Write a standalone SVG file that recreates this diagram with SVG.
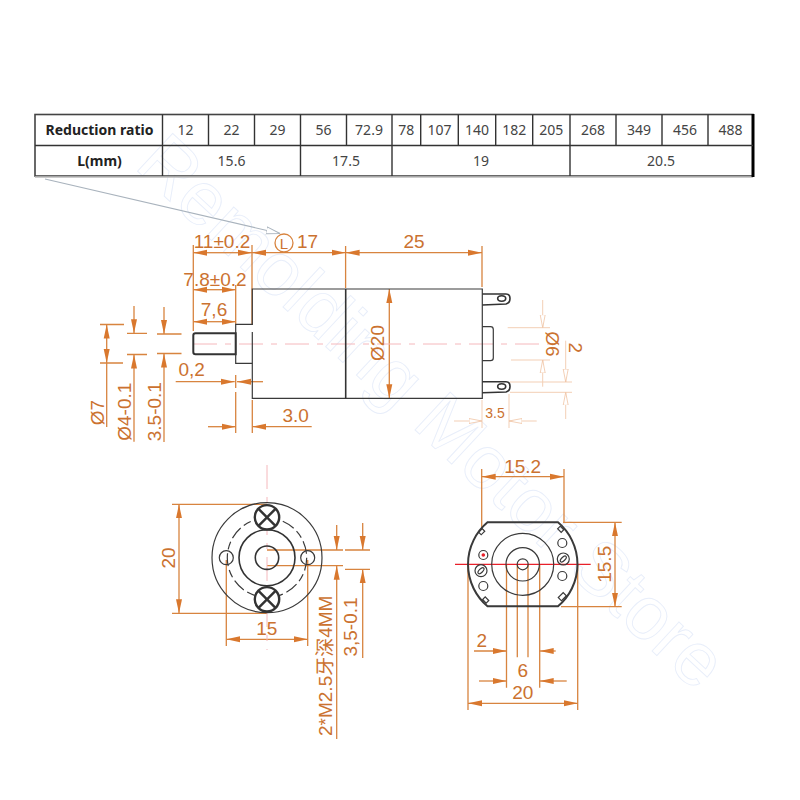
<svg xmlns="http://www.w3.org/2000/svg" width="800" height="800" viewBox="0 0 800 800">
<style>
text{font-family:"Liberation Sans",Arial,"Noto Sans CJK SC",sans-serif}
.wm{font-size:75px;fill:none;stroke:#e8eefa;stroke-width:.9}
.g{stroke:#3a3a3a;stroke-width:1.2;fill:none}
.g2{stroke:#333;stroke-width:1.6;fill:none}
.gb{stroke:#333;stroke-width:2;fill:none}
.d{stroke:#d8843f;stroke-width:1.3;fill:none}
.a{stroke:#d8843f;stroke-width:1.3;fill:none;marker-end:url(#ah)}
.f{stroke:#f3cfb5;stroke-width:1;fill:none}
.fa{stroke:#f3cfb5;stroke-width:1;fill:none;marker-end:url(#fh)}
.t{fill:#cb7230;font-size:19px}
.ts{font-size:14px}
.tl{font-size:15px}
.m{text-anchor:middle}
.cl{stroke:#f5b8bc;stroke-width:1;stroke-dasharray:24 8 6 8;fill:none}
.tb{stroke:#333;stroke-width:1.4;fill:none}
.n{font-family:"Noto Sans",sans-serif;font-size:14px;fill:#444;text-anchor:middle}
.h{font-family:"Noto Sans",sans-serif;font-size:14px;font-weight:700;fill:#222;text-anchor:middle}
</style>
<defs>
<marker id="ah" markerUnits="userSpaceOnUse" markerWidth="15" markerHeight="8" refX="14" refY="4" orient="auto"><path d="M0 1 L14 4 L0 7 Z" fill="#d9782e"/></marker>
<marker id="fh" markerUnits="userSpaceOnUse" markerWidth="14" markerHeight="8" refX="13" refY="4" orient="auto"><path d="M0 1.5 L13 4 L0 6.5 Z" fill="#fff" stroke="#f0c4a4" stroke-width=".8"/></marker>
<marker id="lh" markerUnits="userSpaceOnUse" markerWidth="16" markerHeight="10" refX="14" refY="5" orient="auto"><path d="M0 1.5 L14 5 L0 8.5 Z" fill="#fff" stroke="#a9b3bd" stroke-width="1"/></marker>
</defs>
<rect width="800" height="800" fill="#fff"/>
<text class="wm" transform="translate(133 167) rotate(43)">Remolding Motor Store</text>

<g id="table">
<rect x="35" y="114.5" width="718" height="61.5" fill="none" stroke="#444" stroke-width="1.6"/>
<path d="M35 177H753" stroke="#bbb" stroke-width="1.5"/>
<path d="M753 114V177" stroke="#000" stroke-width="3"/>
<path class="tb" d="M35 145.5H753M162.5 114.5V176M208.5 114.5V145.5M254.5 114.5V145.5M300.5 114.5V176M346.5 114.5V145.5M392 114.5V176M420.7 114.5V145.5M458.3 114.5V145.5M495.7 114.5V145.5M532.7 114.5V145.5M570 114.5V176M616 114.5V145.5M662 114.5V145.5M708 114.5V145.5"/>
<text class="h" x="99.5" y="134.5">Reduction ratio</text>
<text class="h" x="99.5" y="165.5">L(mm)</text>
<text class="n" x="185.5" y="134.5">12</text><text class="n" x="231.5" y="134.5">22</text><text class="n" x="277.5" y="134.5">29</text>
<text class="n" x="323.5" y="134.5">56</text><text class="n" x="369" y="134.5">72.9</text><text class="n" x="406.3" y="134.5">78</text>
<text class="n" x="439.5" y="134.5">107</text><text class="n" x="477" y="134.5">140</text><text class="n" x="514.2" y="134.5">182</text>
<text class="n" x="551.3" y="134.5">205</text><text class="n" x="593" y="134.5">268</text><text class="n" x="639" y="134.5">349</text>
<text class="n" x="685" y="134.5">456</text><text class="n" x="730.5" y="134.5">488</text>
<text class="n" x="231.5" y="165.5">15.6</text><text class="n" x="346" y="165.5">17.5</text><text class="n" x="481" y="165.5">19</text><text class="n" x="661" y="165.5">20.5</text>
</g>

<g id="connectors">
<path d="M45 179L280 233.5" stroke="#a9b3bd" stroke-width="1.1" fill="none" marker-end="url(#lh)"/>
<path class="d" d="M193.3 245V331M252 245V325M345.6 246V288M482 246V287M235.7 285V325"/>
<path class="a" d="M222 252.7H193.3"/><path class="a" d="M222 252.7H252"/>
<path class="a" d="M300 252.7H252"/><path class="a" d="M300 252.7H345.6"/>
<path class="a" d="M414 252.7H345.6"/><path class="a" d="M414 252.7H482"/>
<path class="a" d="M215 289.7H193.3"/><path class="a" d="M215 289.7H235.7"/>
<path class="a" d="M215 321.7H193.3"/><path class="a" d="M215 321.7H235.7"/>
<path class="d" d="M100 324.5H124M100 363H123M127 333.3H147M127 354.5H147M157 334H181.5M157 353.5H181.5"/>
<path class="a" d="M106.7 344V324.5"/><path class="a" d="M106.7 344V363"/><path class="d" d="M106.7 363V427"/>
<path class="a" d="M134 306V333.3"/><path class="a" d="M134 441.7V354.5"/>
<path class="a" d="M164 307V334"/><path class="a" d="M164 442V353.5"/>
<path class="a" d="M175.7 381.7H234.7"/><path class="a" d="M263 381.7H237"/><path class="d" d="M235.7 375V388M235.7 392V433M252.3 400V433"/>
<path class="a" d="M208 426.7H235.7"/><path class="a" d="M311.7 426.7H252.3"/>
<path class="a" d="M389.3 344V289"/><path class="a" d="M389.3 344V398.3"/>
<path class="f" d="M507.7 327.7H550M511 360H550M510 382H572M510 392.3H572M482 400V428M509 394V428"/>
<path class="fa" d="M542.7 300V327.7"/><path class="fa" d="M542.7 386.7V360"/>
<path class="fa" d="M565.7 340.7V382"/><path class="fa" d="M565.7 419V392.3"/>
<path class="fa" d="M454 421H482"/><path class="fa" d="M536.7 421H509"/>
<path class="cl" d="M193 344H553"/>
<path class="d" d="M172 504.3H267M172 613.3H267M226.3 560V646M307.7 560V646M267 550H343M267 565.7H343M345 550H370M345 569.3H370"/>
<path class="a" d="M179 558V504.3"/><path class="a" d="M179 558V613.3"/>
<path class="a" d="M267 639.3H226.3"/><path class="a" d="M267 639.3H307.7"/>
<path class="a" d="M336.7 525V550"/><path class="a" d="M336.7 739V565.7"/>
<path class="a" d="M362.7 523V550"/><path class="a" d="M362.7 658V569.3"/>
<path class="cl" d="M267 465V650"/>
<path class="d" d="M481.7 469V530M564 469V522M563 522.3H621.7M561 606.7H621.7M468 564V710M577.7 564V710M517.3 564V657.3M528 564V657.3M506.5 564V687.7M539.7 564V687.7"/>
<path class="a" d="M522 476.7H481.7"/><path class="a" d="M522 476.7H564"/>
<path class="a" d="M615 564V522.3"/><path class="a" d="M615 564V606.7"/>
<path class="a" d="M522 703.3H468"/><path class="a" d="M522 703.3H577.7"/>
<path class="a" d="M474 651H506.5"/><path class="a" d="M555.7 651H539.7"/>
<path class="a" d="M479 681H506.5"/><path class="a" d="M566.7 681H539.7"/>
<path d="M455 564.3H590.7" stroke="#e8202a" stroke-width="1.2"/>
</g>

<g id="motor-side">
<path class="g" d="M252.3 332V398.3H482.3V289H252.3V325"/>
<path class="g2" d="M345.7 289V398.3"/>
<path class="g" d="M252.3 324.3H235.7V363.3H252.3"/>
<path class="gb" d="M235.7 333.3H195.5Q193.3 333.3 193.3 335.5V352Q193.3 354.3 195.5 354.3H235.7Z"/>
<path class="g2" d="M482.3 294H506Q510 294 510 298.5Q510 303 506 304L482.3 305M482.3 381.7H506Q510 381.7 510 386.5Q510 391 506 392L482.3 392.7"/>
<ellipse class="g2" cx="501.7" cy="298.5" rx="4" ry="2.7"/><ellipse class="g2" cx="501.7" cy="386.5" rx="4" ry="2.7"/>
<path class="g" d="M482.3 326.7H490.5Q493.3 326.7 493.3 329.5V358Q493.3 360.7 490.5 360.7H482.3"/>
</g>

<g id="motor-labels">
<text class="t m" x="222" y="248">11±0.2</text>
<circle cx="284" cy="243" r="9" fill="none" stroke="#d8843f" stroke-width="1.3"/>
<text class="t tl m" x="284" y="248.5">L</text>
<text class="t" x="297" y="248">17</text>
<text class="t m" x="414" y="248">25</text>
<text class="t m" x="215" y="286">7.8±0.2</text>
<text class="t m" x="214" y="316">7,6</text>
<text class="t m" x="191.7" y="375.6">0,2</text>
<text class="t m" x="295.7" y="422">3.0</text>
<text class="t m" transform="translate(104 412.7) rotate(-90)">Ø7</text>
<text class="t m" transform="translate(130.5 411.7) rotate(-90)">Ø4-0.1</text>
<text class="t m" transform="translate(160.5 411.7) rotate(-90)">3.5-0.1</text>
<text class="t m" transform="translate(384.3 343) rotate(-90)">Ø20</text>
<text class="t m" transform="translate(546 344) rotate(90)">Ø6</text>
<text class="t m" transform="translate(568.5 347.7) rotate(90)">2</text>
<text class="t ts m" x="495" y="417.7">3.5</text>
</g>

<g id="front-view">
<circle class="g" cx="267" cy="557.7" r="55"/>
<circle class="g" cx="267" cy="557.7" r="39.7" stroke-dasharray="13 4 8 4"/>
<circle class="g2" cx="267" cy="557.7" r="28"/>
<circle class="g2" cx="267" cy="557.7" r="11.7"/>
<circle class="g" cx="226.3" cy="557.7" r="7"/><circle class="g" cx="307.7" cy="557.7" r="7"/>
<g fill="#fff" stroke="#333" stroke-width="2.4">
<circle cx="267" cy="517.3" r="12.2"/><path d="M258.5 508.8L275.5 525.8M275.5 508.8L258.5 525.8"/>
<circle cx="267" cy="599.3" r="12.2"/><path d="M258.5 590.8L275.5 607.8M275.5 590.8L258.5 607.8"/>
</g>
<text class="t m" transform="translate(175 558) rotate(-90)">20</text>
<text class="t m" x="266.7" y="635">15</text>
<text class="t" transform="translate(331.7 736) rotate(-90)">2*M2.5牙深4MM</text>
<text class="t m" transform="translate(357.3 627) rotate(-90)">3,5-0.1</text>
</g>

<g id="rear-view">
<path d="M487.5 522.3H558A55 55 0 0 1 558 606.3H487.5A55 55 0 0 1 487.5 522.3Z" fill="none" stroke="#3a3a3a" stroke-width="2"/>
<circle class="g" cx="522.7" cy="564.3" r="31"/>
<circle class="g" cx="522.7" cy="564.3" r="16.7"/>
<circle class="g" cx="522.7" cy="564.3" r="5.5"/>
<circle class="g" cx="483.3" cy="555" r="4.5"/><circle cx="483.3" cy="555" r="1.8" fill="#e8202a"/>
<circle class="g" cx="481" cy="570.7" r="6"/><ellipse class="g" cx="481" cy="570.7" rx="3.8" ry="1.8" transform="rotate(-45 481 570.7)"/>
<circle class="g" cx="483.3" cy="586" r="4.5"/>
<circle class="g" cx="562.3" cy="543" r="4.5"/>
<circle class="g" cx="563.3" cy="559" r="6"/><ellipse class="g" cx="563.3" cy="559" rx="3.8" ry="1.8" transform="rotate(-45 563.3 559)"/>
<circle class="g" cx="562.3" cy="576" r="4.5"/>
<rect class="g" x="-2.5" y="-1.8" width="5" height="3.6" transform="translate(481.7 531.7) rotate(-45)"/>
<rect class="g" x="-2.5" y="-1.8" width="5" height="3.6" transform="translate(560.7 529.3) rotate(45)"/>
<rect class="g" x="-2.5" y="-1.8" width="5" height="3.6" transform="translate(485.7 600) rotate(45)"/>
<rect class="g" x="-3.5" y="-2.2" width="7" height="4.4" transform="translate(562.3 596.7) rotate(-45)"/>
<text class="t m" x="522.7" y="472.7">15.2</text>
<text class="t m" transform="translate(610.7 564.3) rotate(-90)">15.5</text>
<text class="t m" x="481.7" y="647.3">2</text>
<text class="t m" x="522.7" y="676.7">6</text>
<text class="t m" x="522.7" y="699">20</text>
</g>
</svg>
